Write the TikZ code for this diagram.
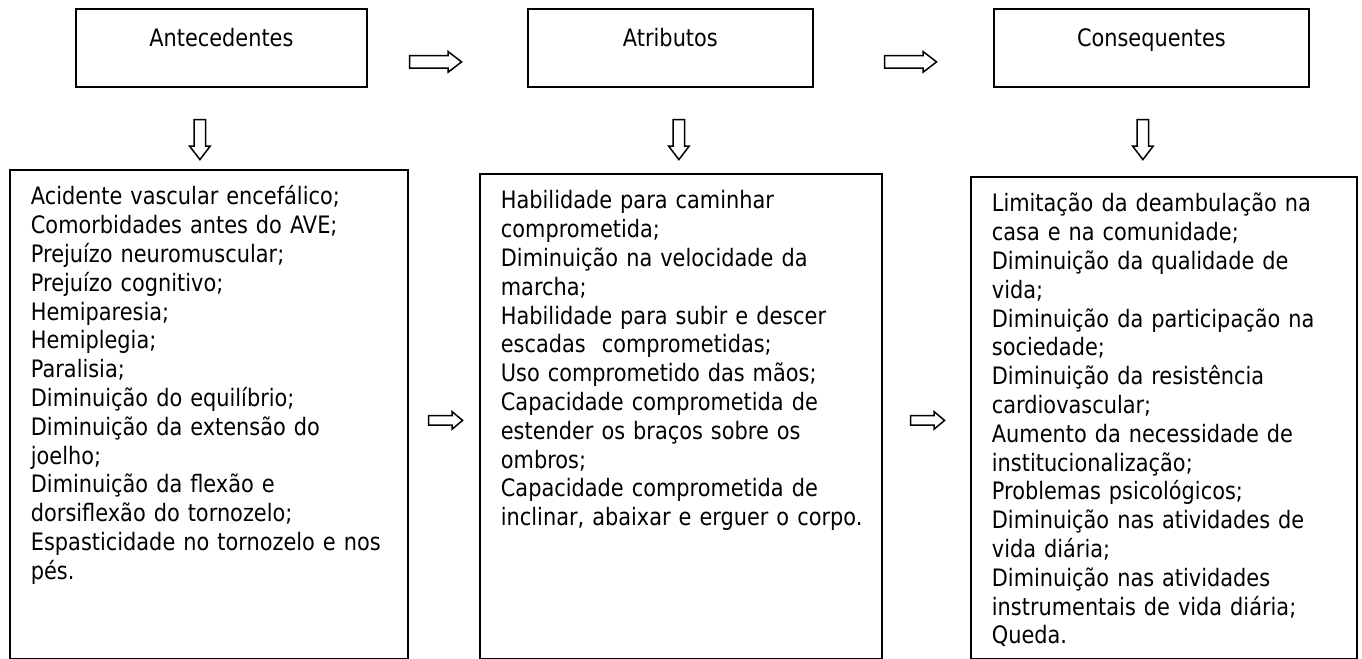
\documentclass[tikz,border=0pt]{standalone}
\usepackage{fontspec}
\setmainfont{DejaVu Sans}[FakeStretch=0.87]
\usepackage{tikz}
\usetikzlibrary{positioning,shapes.arrows}

\tikzset{
    titulo/.style={draw, line width=0.9pt, anchor=north west, inner sep=0pt,
        minimum width=#1, text height=19pt, text depth=20pt,
        font=\fontsize{12pt}{14.4pt}\selectfont},
    lista/.style={draw, line width=0.9pt, anchor=north west, inner xsep=10.5pt, inner ysep=0pt,
        text width=#1, align=left, text height=17.5pt,
        font=\fontsize{12pt}{14.4pt}\selectfont,
        execute at begin node={\rightskip=0pt plus 1fil minus 100pt\relax}},
    seta/.style={single arrow, draw, line width=0.75pt, fill=white, anchor=tail,
        inner sep=2.75pt, single arrow head extend=2pt, minimum height=26pt,
        single arrow tip angle=75},
    setab/.style={seta, shape border rotate=270, inner sep=2.5pt,
        single arrow head extend=2.25pt, minimum height=20pt},
    setam/.style={seta, inner sep=2pt, single arrow head extend=2pt,
        minimum height=17pt, single arrow tip angle=80}
}

\begin{document}
\begin{tikzpicture}[x=0.5pt, y=-0.5pt]
        \useasboundingbox (0,0) rectangle (1362,659);

        \node[titulo=145.5pt] (ante) at (75,8) {Antecedentes};
        \node[titulo=142.5pt] (atri) at (527,8) {Atributos};
        \node[titulo=157.5pt] (cons) at (993,8) {Consequentes};

        \node[seta, right=20.5pt of ante, anchor=tail, yshift=-7pt] (seta_1) {};
        \node[seta, right=35pt of atri, anchor=tail, yshift=-7pt] (seta_2) {};

        \node[setab, below=15.5pt of ante, anchor=tail, xshift=-10.75pt] (desce_1) {};
        \node[setab, below=15.5pt of atri, anchor=tail, xshift=4.25pt] (desce_2) {};
        \node[setab, below=15.5pt of cons, anchor=tail, xshift=-4.25pt] (desce_3) {};

        \node[lista=178pt, text depth=227pt] (ante_l) at (9,169) {%
            Acidente vascular encefálico;\\
            Comorbidades antes do AVE;\\
            Prejuízo neuromuscular;\\
            Prejuízo cognitivo;\\
            Hemiparesia;\\
            Hemiplegia;\\
            Paralisia;\\
            Diminuição do equilíbrio;\\
            Diminuição da extensão do\\
            joelho;\\
            Diminuição da flexão e\\
            dorsiflexão do tornozelo;\\
            Espasticidade no tornozelo e nos\\
            pés.};
        \node[lista=180pt, text depth=225pt] (atri_l) at (479,173) {%
            Habilidade para caminhar\\
            comprometida;\\
            Diminuição na velocidade da\\
            marcha;\\
            Habilidade para subir e descer\\
            escadas\ \ comprometidas;\\
            Uso comprometido das mãos;\\
            Capacidade comprometida de\\
            estender os braços sobre os\\
            ombros;\\
            Capacidade comprometida de\\
            inclinar, abaixar e erguer o corpo.};
        \node[lista=172pt, text depth=223.5pt] (cons_l) at (970,176) {%
            Limitação da deambulação na\\
            casa e na comunidade;\\
            Diminuição da qualidade de\\
            vida;\\
            Diminuição da participação na\\
            sociedade;\\
            Diminuição da resistência\\
            cardiovascular;\\
            Aumento da necessidade de\\
            institucionalização;\\
            Problemas psicológicos;\\
            Diminuição nas atividades de\\
            vida diária;\\
            Diminuição nas atividades\\
            instrumentais de vida diária;\\
            Queda.};

        \node[setam, right=9.5pt of ante_l, anchor=tail, yshift=-3pt] (seta_3) {};
        \node[setam, right=13.5pt of atri_l, anchor=tail, yshift=-2pt] (seta_4) {};
    \end{tikzpicture}
\end{document}
